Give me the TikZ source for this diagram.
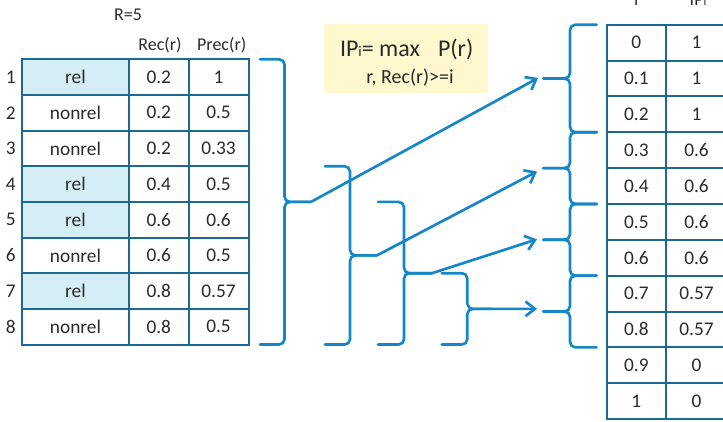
\documentclass[tikz,border=0pt]{standalone}
\usepackage{fontspec}
\setmainfont{Carlito}
\usetikzlibrary{arrows.meta}
\definecolor{tblue}{HTML}{1B6A96}
\definecolor{relfill}{HTML}{D5EDF5}
\definecolor{bblue}{HTML}{1587C8}
\definecolor{yel}{HTML}{FFF8CE}
\definecolor{txt}{HTML}{2A2A2A}
% #1 end x, #2 spine x, #3 tip x, #4 top y, #5 bottom y, #6 tip name
\newcommand\mybrace[6]{%
  \pgfmathsetmacro\ymid{(#4+#5)/2}%
  \draw[brc] (#1,#4) -- (#2,#4) -- (#2,\ymid) -- (#3,\ymid);
  \draw[brc] (#1,#5) -- (#2,#5) -- (#2,\ymid) -- (#3,\ymid);
  \coordinate (#6) at (#3,\ymid);
}
\begin{document}
\begin{tikzpicture}[x=0.75pt,y=-0.75pt,
  cell/.style={draw=tblue, line width=1.5pt, inner sep=0pt, text=txt,
    font=\fontsize{14.5}{16}\selectfont},
  lcell/.style={cell, minimum height=26.74pt},
  rcell/.style={cell, minimum height=26.89pt},
  lbl/.style={text=txt, inner sep=0pt},
  brc/.style={draw=bblue, line width=2pt, rounded corners=4pt, line cap=round},
  arr/.style={draw=bblue, line width=2pt, -{Straight Barb[length=7pt,width=11pt,line width=2pt]}},
]
\useasboundingbox (0,0) rectangle (723,421);

% headers of left table
\node[lbl, font=\fontsize{13.5}{15}\selectfont, anchor=base] (R5) at (128,20.7) {R=5};
\node[lbl, font=\fontsize{13.5}{15}\selectfont, anchor=base] (hrec) at (160,50.5) {Rec(r)};
\node[lbl, font=\fontsize{13.5}{15}\selectfont, anchor=base] (hprec) at (221.7,50.5) {Prec(r)};

% left table
\foreach \n/\lab/\rec/\prec/\f in {1/rel/0.2/1/relfill, 2/nonrel/0.2/0.5/white,
    3/nonrel/0.2/0.33/white, 4/rel/0.4/0.5/relfill, 5/rel/0.6/0.6/relfill,
    6/nonrel/0.6/0.5/white, 7/rel/0.8/0.57/relfill, 8/nonrel/0.8/0.5/white}{
  \pgfmathsetmacro\yc{59.3+35.65*(\n-0.5)}
  \node[lcell, fill=\f, minimum width=80.25pt] (L\n-a) at (75.5,\yc) {\lab};
  \node[lcell, fill=white, minimum width=44.625pt] (L\n-b) at (158.75,\yc) {\rec};
  \node[lcell, fill=white, minimum width=45pt] (L\n-c) at (218.5,\yc) {\prec};
  \node[lbl, font=\fontsize{14.5}{16}\selectfont] (N\n) at (10.8,\yc) {\n};
}

% right table headers
\node[lbl, font=\fontsize{13.5}{15}\selectfont, anchor=base] (hi) at (636.3,6) {i};
\node[lbl, font=\fontsize{13.5}{15}\selectfont, anchor=base] (hip) at (698,6) {IP{\fontsize{9}{10}\selectfont i}};

% right table
\foreach \k/\i/\v in {1/0/1, 2/0.1/1, 3/0.2/1, 4/0.3/0.6, 5/0.4/0.6, 6/0.5/0.6,
    7/0.6/0.6, 8/0.7/0.57, 9/0.8/0.57, 10/0.9/0, 11/1/0}{
  \pgfmathsetmacro\yc{24.7+35.85*(\k-0.5)}
  \node[rcell, fill=white, minimum width=44.475pt] (T\k-a) at (636.35,\yc) {\i};
  \node[rcell, fill=white, minimum width=45.75pt] (T\k-b) at (696.5,\yc) {\v};
}

% formula box
\node[fill=yel, minimum width=122.8pt, minimum height=51.5pt, inner sep=0pt] (fbox) at (405.85,58.35) {};
\node[lbl, font=\fontsize{18}{20}\selectfont, anchor=base] (f1) at (406.7,56)
  {IP{\fontsize{11}{12}\selectfont i}= max\hspace{0.75em}P(r)};
\node[lbl, font=\fontsize{15}{17}\selectfont, anchor=base] (f2) at (410,83.3) {r, Rec(r)>=i};

% left braces
\mybrace{260}{284.5}{311}{59.3}{344.5}{t1}
\mybrace{325}{350}{377}{166.25}{344.5}{t2}
\mybrace{378}{404}{432}{201.9}{344.5}{t3}
\mybrace{441.7}{467.3}{493}{273.2}{344.5}{t4}

% right braces
\mybrace{596.7}{570}{543.3}{24.7}{132.25}{s1}
\mybrace{596.7}{570}{543.3}{132.25}{203.95}{s2}
\mybrace{596.7}{570}{543.3}{203.95}{275.65}{s3}
\mybrace{596.7}{570}{543.3}{275.65}{347.35}{s4}

% arrow ends
\coordinate (e1) at (538,78);
\coordinate (e2) at (537,171.5);
\coordinate (e3) at (537,239.3);
\coordinate (e4) at (537,308.85);

\draw[arr] (t1) -- (e1);
\draw[arr] (t2) -- (e2);
\draw[arr] (t3) -- (e3);
\draw[arr] (t4) -- (e4);
\end{tikzpicture}
\end{document}
